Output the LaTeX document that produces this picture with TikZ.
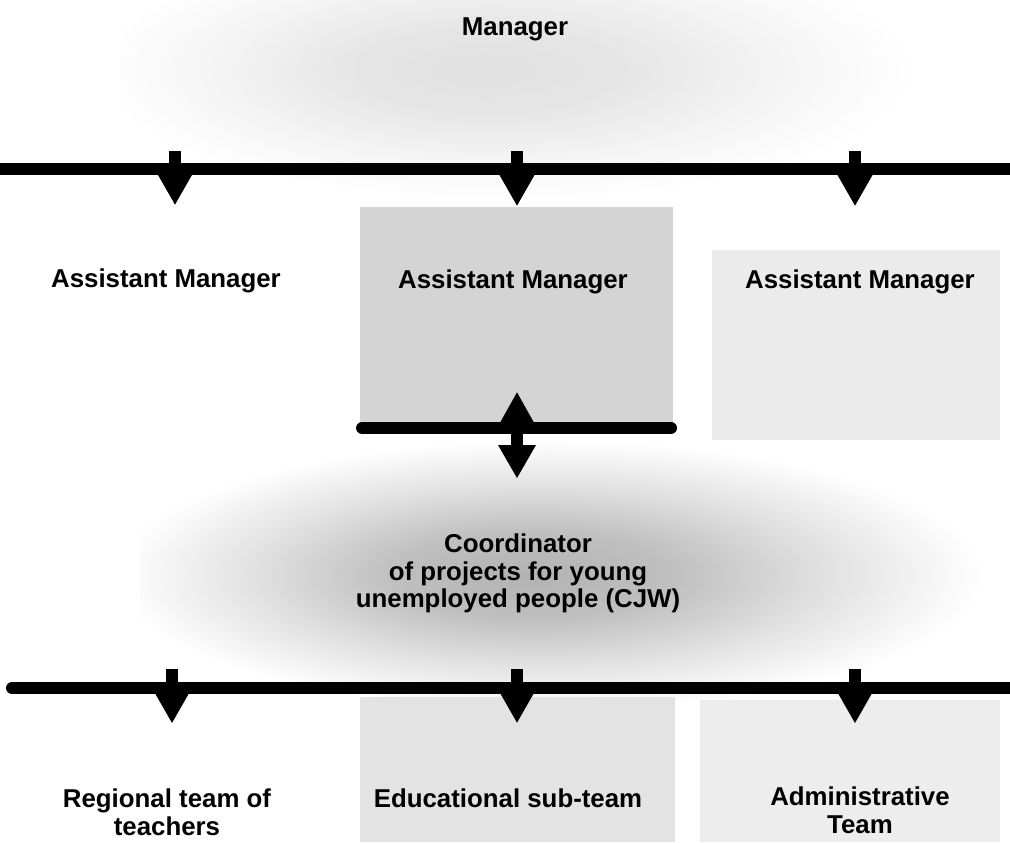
\documentclass[tikz,border=0pt]{standalone}
\usepackage{fontspec}
\setmainfont{Liberation Sans}
\usetikzlibrary{arrows.meta}

\pgfdeclareradialshading{haze}{\pgfpoint{-3bp}{0bp}}{color(0bp)=(black!30); color(8bp)=(black!25); color(17bp)=(black!11); color(25bp)=(white); color(50bp)=(white)}

\tikzset{
  lbl/.style={font=\bfseries\fontsize{14.7}{15.9}\selectfont, inner sep=0pt,
    text height=0.38cm, text depth=0.1cm},
  blk/.style={font=\bfseries\fontsize{14.7}{15.9}\selectfont, inner sep=0pt, align=center},
  bar/.style={line width=0.24cm},
  arr/.style={line width=0.25cm, -{Triangle[width=0.8cm,length=0.7cm,line width=0pt]}},
  darr/.style={line width=0.25cm,
    {Triangle[width=0.74cm,length=0.66cm,line width=0pt]}-{Triangle[width=0.76cm,length=0.66cm,line width=0pt]}},
  screen/.style={draw=none}
}

\begin{document}
\begin{tikzpicture}[x=0.02cm,y=-0.02cm]
  \useasboundingbox (0,0) rectangle (1010,842);

  % grey screen of the scan
  \shade[screen, shading=haze, opacity=0.4] (120,-60) rectangle (940,200);
  \shade[screen, shading=haze] (140,440) rectangle (1010,710);
  \fill[screen, black!17] (360,207) rectangle (673,423);
  \fill[screen, black!8] (712,250) rectangle (1000,440);
  \fill[screen, black!11] (360,697) rectangle (675,842);
  \fill[screen, black!7] (700,700) rectangle (1000,842);

  \node[lbl, anchor=base] (mgr) at (515,35) {Manager};
  \node[lbl, anchor=base] (am1) at (166,287) {Assistant Manager};
  \node[lbl, anchor=base] (am2) at (513,288) {Assistant Manager};
  \node[lbl, anchor=base] (am3) at (860,288) {Assistant Manager};
  \node[blk, anchor=north] (cjw) at (518,533) {Coordinator\\of projects for young\\unemployed people (CJW)};
  \node[blk, anchor=north] (reg) at (167,788) {Regional team of\\teachers};
  \node[lbl, anchor=base] (edu) at (508,807) {Educational sub-team};
  \node[blk, anchor=north] (adm) at (860,786) {Administrative\\Team};

  % bars
  \coordinate (t1) at (175,151);
  \coordinate (t2) at (517,151);
  \coordinate (t3) at (855,151);
  \coordinate (m) at (517,428);
  \coordinate (b1) at (172,669);
  \coordinate (b2) at (517,669);
  \coordinate (b3) at (855,669);

  \draw[bar] (0,169) -- (1010,169);
  \draw[bar, line cap=round] (362,428) -- (671,428);
  \draw[bar, line cap=round] (12,688) -- (1010,688);

  \draw[arr, shorten >=1.26cm] (t1) -- (am1.north -| t1);
  \draw[arr, shorten >=1.26cm] (t2) -- (am2.north -| t2);
  \draw[arr, shorten >=1.26cm] (t3) -- (am3.north -| t3);

  \draw[darr, shorten <=1.98cm, shorten >=1.1cm] (am2.south -| m) -- (cjw.north -| m);

  \draw[arr, shorten >=1.3cm] (b1) -- (reg.north -| b1);
  \draw[arr, shorten >=1.3cm] (b2) -- (edu.north -| b2);
  \draw[arr, shorten >=1.26cm] (b3) -- (adm.north -| b3);
\end{tikzpicture}
\end{document}
